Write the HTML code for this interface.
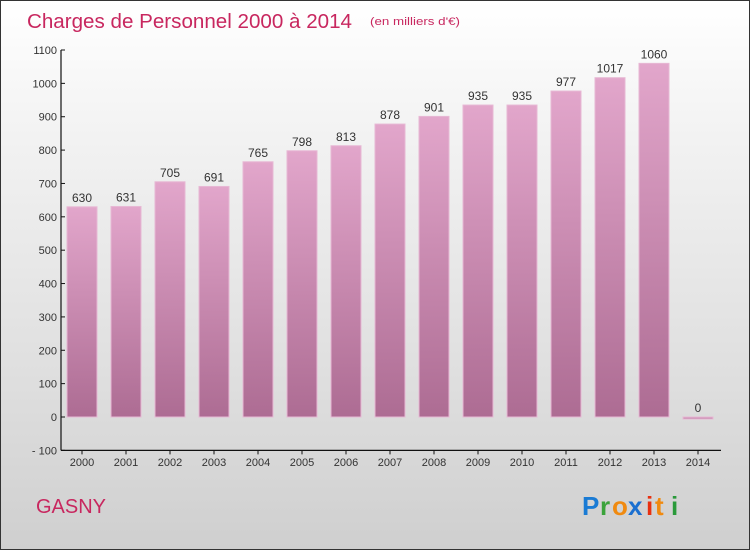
<!DOCTYPE html>
<html><head><meta charset="utf-8"><style>
html,body{margin:0;padding:0}
body{width:750px;height:550px;overflow:hidden;font-family:"Liberation Sans",sans-serif}
#wrap{position:relative;width:748px;height:548px;border:1px solid #333;background:linear-gradient(#ffffff 0%,#f2f2f2 25%,#dedede 70%,#cfcfcf 100%)}
</style></head><body>
<div id="wrap">
<svg width="748" height="548" viewBox="1 1 748 548">
<defs><linearGradient id="bg" x1="0" y1="0" x2="0" y2="1"><stop offset="0" stop-color="#e2a6cb"/><stop offset="1" stop-color="#ad6c93"/></linearGradient></defs>
<text x="27" y="28" font-size="20" fill="#c8275f" textLength="325" lengthAdjust="spacingAndGlyphs">Charges de Personnel 2000 à 2014</text>
<text x="370" y="25" font-size="11" fill="#c8275f" textLength="90" lengthAdjust="spacingAndGlyphs">(en milliers d'€)</text>
<g id="axes"></g>
<g id="bars"></g>
<text x="36" y="513" font-size="20" fill="#c8275f">GASNY</text>
<g font-size="26" font-weight="bold" font-family="Liberation Sans, sans-serif">
<text x="582" y="515" fill="#1a7bd4">P</text><text x="600" y="515" fill="#3aa33a">r</text><text x="612" y="515" fill="#f08a10">o</text><text x="628" y="515" fill="#1a6fd0">x</text><text x="646" y="515" fill="#e83010">i</text><text x="655" y="515" fill="#f08a10">t</text><text x="671" y="515" fill="#2a9a3a">i</text>
</g>
</svg>
</div>
<script>
const years=["2000","2001","2002","2003","2004","2005","2006","2007","2008","2009","2010","2011","2012","2013","2014"];
const values=[630,631,705,691,765,798,813,878,901,935,935,977,1017,1060,0];
const yTicks=[-100,0,100,200,300,400,500,600,700,800,900,1000,1100];
const NS="http://www.w3.org/2000/svg";
const y=v=>417-v*(367/1100);
const x=i=>82+i*44;
function mk(t,a,p){const e=document.createElementNS(NS,t);for(const k in a)e.setAttribute(k,a[k]);p.appendChild(e);return e;}
const ax=document.getElementById('axes'),bg=document.getElementById('bars');
const yl=mk('line',{x1:61,y1:y(1100),x2:61,y2:y(-100),stroke:'#111','stroke-width':1.2},ax);


const xl=mk('line',{x1:61,y1:y(-100),x2:721,y2:y(-100),stroke:'#111','stroke-width':1.2},ax);


yTicks.forEach(v=>{
 mk('line',{x1:61,y1:y(v),x2:65,y2:y(v),stroke:'#111'},ax);
 const t=mk('text',{x:57,y:y(v)+4,'font-size':11,'text-anchor':'end',fill:'#333'},ax);
 t.textContent=v<0?'- '+(-v):v;
 
 
});
years.forEach((yr,i)=>{
 mk('line',{x1:x(i),y1:y(-100),x2:x(i),y2:y(-100)+4,stroke:'#111'},ax);
 const t=mk('text',{x:x(i),y:466,'font-size':11,'text-anchor':'middle',fill:'#333'},ax);
 t.textContent=yr;
 
 
 const v=values[i];
 const top=y(v),h=Math.max(y(0)-top,2);
 const r=mk('rect',{x:x(i)-15,y:v>0?top:y(0),width:30,height:h,fill:'url(#bg)',stroke:'#e7b8d4','stroke-width':1},bg);
 
 
 const l=mk('text',{x:x(i),y:top-5,'font-size':12,'text-anchor':'middle',fill:'#333'},bg);
 l.textContent=v;
 
 
});
</script>
</body></html>
